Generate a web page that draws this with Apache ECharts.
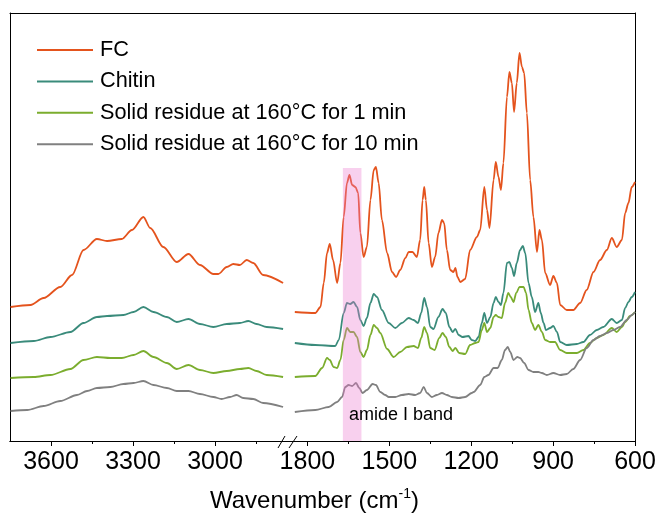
<!DOCTYPE html>
<html>
<head>
<meta charset="utf-8">
<script src="https://cdn.jsdelivr.net/npm/echarts@6/dist/echarts.min.js"></script>
<style>
    html, body { margin: 0; padding: 0; background: #fff; }
    #main { width: 662px; height: 515px; }
</style>
</head>
<body>
<div id="main"></div>
<script>
var names = ['FC', 'Chitin', 'Solid residue at 160°C for 1 min', 'Solid residue at 160°C for 10 min'];
var colors = ['#E4531D', '#3A8B7B', '#7BAD2E', '#808080'];
var leftTicks = [3600, 3300, 3000];
var leftMinor = [3450, 3150, 2850];
var rightTicks = [1800, 1500, 1200, 900, 600];
var rightMinor = [1650, 1350, 1050, 750];
// amide I band: [from, to, height]
var amideBand = [1602, 1670, 273];

// [wavenumber, stacked absorbance], 3750-2750 segment
var fcLeft = [[3748,134],[3675,136],[3627,143],[3566,154],[3523,166],[3481,191],[3432,202],[3395,200],[3341,202],[3304,211],[3262,224],[3237,213],[3189,194],[3140,179],[3097,187],[3055,176],[3006,167],[2988,167],[2957,174],[2933,177],[2909,176],[2884,181],[2860,178],[2824,166],[2751,158]];
var chitinLeft = [[3748,98],[3663,100],[3602,104],[3529,109],[3481,118],[3432,124],[3395,125],[3335,126],[3298,129],[3262,134],[3225,129],[3176,124],[3140,119],[3097,122],[3055,117],[3006,114],[2957,117],[2909,118],[2878,120],[2848,117],[2811,114],[2751,112]];
var res1Left = [[3748,63],[3663,64],[3602,66],[3529,72],[3481,81],[3432,84],[3383,83],[3341,83],[3298,86],[3262,90],[3225,84],[3176,78],[3140,72],[3097,76],[3055,71],[3006,68],[2957,70],[2909,72],[2878,73],[2848,70],[2811,66],[2751,64]];
var res10Left = [[3748,30],[3687,31],[3627,35],[3566,40],[3505,46],[3468,50],[3432,53],[3383,54],[3335,57],[3298,58],[3262,60],[3225,56],[3176,53],[3140,50],[3097,50],[3055,47],[3006,44],[2976,42],[2945,44],[2921,46],[2897,43],[2860,42],[2824,38],[2751,34]];

// 1860-600 segment
var fcRight = [[1846,129],[1771,128],[1752,134],[1740,158],[1728,188],[1718,197],[1706,181],[1691,158],[1679,178],[1667,224],[1655,258],[1646,266],[1636,256],[1624,254],[1614,248],[1606,208],[1594,184],[1582,194],[1569,241],[1557,271],[1549,274],[1539,258],[1527,221],[1508,188],[1490,169],[1475,164],[1460,171],[1441,183],[1429,189],[1415,189],[1399,184],[1387,201],[1378,241],[1372,254],[1366,241],[1356,198],[1344,174],[1332,184],[1320,208],[1307,221],[1299,218],[1289,191],[1277,171],[1265,169],[1258,173],[1250,164],[1240,159],[1222,162],[1204,191],[1179,204],[1167,211],[1152,254],[1142,231],[1133,213],[1118,261],[1110,279],[1100,264],[1091,251],[1082,278],[1069,344],[1060,369],[1051,358],[1043,329],[1033,358],[1023,388],[1014,374],[1006,368],[996,328],[984,261],[972,224],[959,189],[950,211],[941,201],[929,168],[911,156],[899,165],[886,158],[874,136],[850,131],[826,131],[801,138],[777,151],[752,169],[728,181],[703,191],[685,203],[667,194],[648,201],[636,228],[624,238],[612,254],[600,259]];
var chitinRight = [[1846,98],[1771,96],[1698,95],[1685,101],[1667,128],[1655,138],[1643,137],[1631,139],[1618,134],[1606,121],[1594,115],[1582,123],[1569,138],[1557,147],[1545,144],[1527,131],[1502,118],[1478,113],[1454,118],[1429,123],[1411,121],[1395,118],[1383,128],[1372,143],[1362,134],[1350,114],[1338,112],[1320,124],[1305,132],[1293,128],[1280,114],[1268,109],[1258,112],[1246,106],[1232,104],[1210,105],[1198,101],[1185,100],[1173,104],[1161,118],[1152,128],[1142,118],[1130,124],[1118,138],[1110,144],[1100,139],[1091,136],[1082,148],[1069,178],[1060,179],[1051,173],[1043,165],[1033,178],[1021,191],[1011,195],[1002,188],[990,158],[978,144],[966,129],[954,138],[945,128],[935,118],[926,111],[911,113],[899,115],[886,109],[874,99],[850,96],[813,97],[789,99],[765,106],[740,111],[716,114],[685,122],[667,118],[648,121],[636,133],[624,139],[612,144],[600,149]];
var res1Right = [[1846,64],[1771,65],[1746,73],[1728,83],[1718,81],[1704,74],[1691,73],[1679,81],[1667,101],[1655,113],[1643,109],[1631,109],[1618,104],[1606,89],[1594,84],[1582,91],[1569,106],[1557,116],[1545,113],[1533,108],[1508,92],[1484,84],[1460,89],[1435,94],[1411,95],[1395,93],[1383,103],[1372,114],[1362,108],[1350,93],[1334,91],[1317,103],[1305,108],[1293,104],[1280,94],[1268,90],[1258,93],[1244,88],[1222,87],[1204,96],[1185,98],[1173,99],[1161,111],[1152,118],[1142,109],[1130,113],[1118,124],[1110,126],[1100,124],[1088,123],[1076,138],[1064,148],[1055,144],[1045,139],[1035,148],[1023,154],[1008,154],[999,148],[990,131],[978,118],[966,111],[954,116],[941,109],[929,101],[911,99],[893,99],[874,91],[850,88],[813,88],[789,91],[765,98],[740,103],[716,106],[685,113],[667,109],[648,114],[636,119],[618,125],[600,129]];
var res10Right = [[1846,29],[1771,31],[1722,34],[1691,39],[1673,44],[1661,54],[1649,56],[1636,55],[1622,58],[1610,53],[1598,48],[1582,51],[1561,57],[1549,56],[1533,49],[1515,46],[1502,44],[1478,44],[1454,46],[1429,47],[1405,46],[1387,48],[1374,54],[1362,48],[1344,44],[1326,46],[1307,48],[1289,46],[1271,44],[1246,43],[1222,44],[1198,48],[1191,49],[1167,56],[1152,64],[1137,66],[1118,73],[1103,73],[1088,81],[1076,91],[1066,94],[1057,89],[1045,81],[1031,84],[1021,83],[1006,78],[990,71],[972,69],[954,69],[941,68],[923,66],[899,68],[874,66],[850,67],[826,72],[801,81],[777,93],[752,101],[728,105],[703,108],[679,111],[655,114],[630,121],[612,126],[600,129]];

var leftData = [fcLeft, chitinLeft, res1Left, res10Left];
var rightData = [fcRight, chitinRight, res1Right, res10Right];

var font = 'Liberation Sans, Arial, sans-serif';
var chart = echarts.init(document.getElementById('main'));

function xAxisOf(grid, min, max, ticks, minor, pos) {
    var isTop = pos === 'top';
    return {
        type: 'value', gridIndex: grid, position: pos, inverse: true,
        min: min, max: max,
        axisLine: { show: true, onZero: false, lineStyle: { color: '#000', width: 1 } },
        axisTick: { show: !isTop, inside: false, length: minor ? 3 : 5, customValues: ticks, lineStyle: { color: '#000' } },
        axisLabel: {
            show: !isTop && !minor, customValues: ticks, margin: 9, fontSize: 25, color: '#000', fontFamily: font,
            formatter: function (v) { return String(v); }
        },
        splitLine: { show: false }
    };
}

function yAxisOf(grid, pos) {
    return {
        type: 'value', gridIndex: grid, position: pos, min: 0, max: 428,
        axisLine: { show: true, onZero: false, lineStyle: { color: '#000', width: 1 } },
        axisTick: { show: false }, axisLabel: { show: false }, splitLine: { show: false }
    };
}

var series = [];
for (var i = 0; i < names.length; i++) {
    series.push({
        name: names[i], type: 'line', xAxisIndex: 0, yAxisIndex: 0,
        data: leftData[i], symbol: 'none', smooth: 0.3, smoothMonotone: 'x',
        lineStyle: { color: colors[i], width: 1.8 }, itemStyle: { color: colors[i] }
    });
    series.push({
        name: names[i], type: 'line', xAxisIndex: 3, yAxisIndex: 1,
        data: rightData[i], symbol: 'none', smooth: 0.3, smoothMonotone: 'x',
        lineStyle: { color: colors[i], width: 1.8 }, itemStyle: { color: colors[i] }
    });
}
// translucent pink band drawn over the amide I peaks
series.push({
    type: 'custom', xAxisIndex: 3, yAxisIndex: 1, z: 10, silent: true,
    data: [amideBand],
    renderItem: function (params, api) {
        var p0 = api.coord([api.value(1), api.value(2)]);
        var p1 = api.coord([api.value(0), 0]);
        return {
            type: 'rect',
            shape: { x: p0[0], y: p0[1], width: p1[0] - p0[0], height: p1[1] - p0[1] },
            style: { fill: 'rgba(236,120,205,0.35)' }
        };
    }
});

chart.setOption({
    animation: false,
    textStyle: { fontFamily: font },
    grid: [
        { left: 10, top: 13, width: 281, bottom: 74 },
        { left: 291, top: 13, right: 27, bottom: 74 }
    ],
    xAxis: [
        xAxisOf(0, 2722, 3750, leftTicks, false, 'bottom'),
        xAxisOf(0, 2722, 3750, leftMinor, true, 'bottom'),
        xAxisOf(0, 2722, 3750, [], false, 'top'),
        xAxisOf(1, 600, 1860, rightTicks, false, 'bottom'),
        xAxisOf(1, 600, 1860, rightMinor, true, 'bottom'),
        xAxisOf(1, 600, 1860, [], false, 'top')
    ],
    yAxis: [yAxisOf(0, 'left'), yAxisOf(1, 'right')],
    legend: {
        orient: 'vertical', left: 37, top: 39, padding: 0,
        icon: 'rect', itemWidth: 56, itemHeight: 2, itemGap: 9.4,
        textStyle: { fontSize: 21.7, lineHeight: 22, color: '#000', fontFamily: font, padding: [0, 0, 0, 2] },
        data: names
    },
    title: {
        text: '{a|Wavenumber (cm}{s|-1}{a|)}',
        left: 205, top: 482,
        textStyle: {
            rich: {
                a: { fontSize: 24, lineHeight: 28, fontWeight: 'normal', color: '#000', fontFamily: font },
                s: { fontSize: 14, lineHeight: 14, fontWeight: 'normal', verticalAlign: 'top', color: '#000', fontFamily: font }
            }
        }
    },
    graphic: [
        { type: 'line', shape: { x1: 278, y1: 448, x2: 285, y2: 436 }, style: { stroke: '#000', lineWidth: 1 } },
        { type: 'line', shape: { x1: 289, y1: 448, x2: 297, y2: 436 }, style: { stroke: '#000', lineWidth: 1 } },
        { type: 'text', left: 349, top: 406, z: 20, style: { text: 'amide I band', fontSize: 18, fill: '#000', fontFamily: font } }
    ],
    series: series
});
</script>
</body>
</html>
